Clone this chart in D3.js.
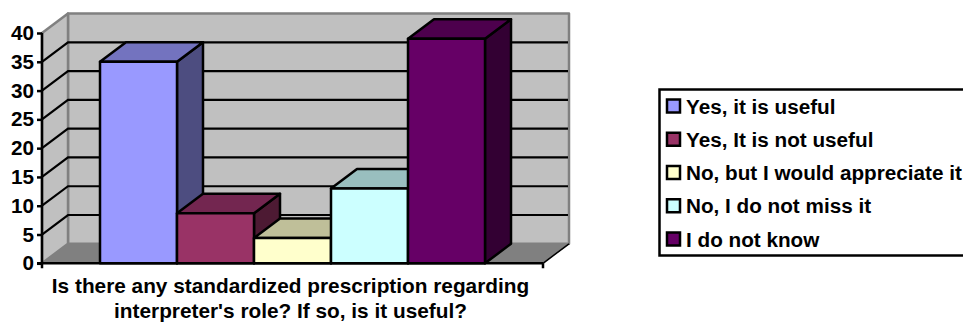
<!DOCTYPE html>
<html>
<head>
<meta charset="utf-8">
<script src="https://cdn.jsdelivr.net/npm/d3@7/dist/d3.min.js"></script>
<style>
html,body{margin:0;padding:0;background:#fff;overflow:hidden}
svg{display:block}
text{font-family:"Liberation Sans",Arial,sans-serif;font-weight:bold;fill:#000}
</style>
</head>
<body>
<script>
// Survey answers, one bar per answer
const answers = ["Yes, it is useful","Yes, It is not useful","No, but I would appreciate it","No, I do not miss it","I do not know"];
const counts = [35, 8.7, 4.4, 13, 39];
const frontColors = ["#9999ff","#993366","#ffffcc","#ccffff","#660066"];
const topColors = ["#7373bf","#732650","#bfbf99","#99bfbf","#4d004d"];
const sideColors = ["#4d4d80","#4d1a33","#808066","#668080","#330033"];
const yTicks = [0,5,10,15,20,25,30,35,40];
const titleLines = ["Is there any standardized prescription regarding","interpreter's role? If so, is it useful?"];

const W = 963, H = 322;
const depthX = 26, depthY = -19.5;
const svg = d3.select("body").append("svg").attr("width",W).attr("height",H);

const x = d3.scaleBand().domain(answers).range([100,485]).padding(0);
const y = d3.scaleLinear().domain([0,40]).range([263.3,33]);
const left = 42, right = 543;
const line = d3.line();
const poly = (pts,fill,stroke,sw) => svg.append("path")
  .attr("d",line(pts)+"Z").attr("fill",fill)
  .attr("stroke",stroke||"none").attr("stroke-width",sw||0).attr("stroke-linejoin","round");

// Walls and floor of the 3D box
poly([[left+depthX,y(40)+depthY],[right+depthX,y(40)+depthY],[right+depthX,y(0)+depthY],[left+depthX,y(0)+depthY]],"#c0c0c0","#808080",2.5);
poly([[left,y(40)],[left+depthX,y(40)+depthY],[left+depthX,y(0)+depthY],[left,y(0)]],"#c0c0c0","#808080",2.5);
poly([[left,y(0)],[left+depthX,y(0)+depthY],[right+depthX,y(0)+depthY],[right,y(0)]],"#808080","#808080",1);

// Gridlines run along the side wall and across the back wall
yTicks.filter(d=>d>0 && d<40).forEach(d=>{
  svg.append("path").attr("fill","none").attr("stroke","#000").attr("stroke-width",2.2)
    .attr("d",line([[left,y(d)],[left+depthX,y(d)+depthY],[right+depthX-1,y(d)+depthY]]));
});

// Bars, each with a top and a right side face
answers.forEach((a,i)=>{
  const x0 = x(a), x1 = x0+x.bandwidth(), yt = y(counts[i]), yb = y(0);
  poly([[x1,yt],[x1+depthX,yt+depthY],[x1+depthX,yb+depthY],[x1,yb]],sideColors[i],"#000",2.5);
  poly([[x0,yt],[x0+depthX,yt+depthY],[x1+depthX,yt+depthY],[x1,yt]],topColors[i],"#000",2.5);
  poly([[x0,yt],[x1,yt],[x1,yb],[x0,yb]],frontColors[i],"#000",2.5);
});

// Value axis with its outward ticks
const yAxis = d3.axisLeft(y).tickValues(yTicks).tickSize(5).tickPadding(3);
const gy = svg.append("g").attr("transform",`translate(${left},0)`).call(yAxis);
gy.select(".domain").attr("stroke","#000").attr("stroke-width",2.5).attr("d",`M0,${y(40)}V${y(0)}`);
gy.selectAll("line").attr("stroke","#000").attr("stroke-width",2.5);
gy.selectAll("text").style("font-size","20.7px").style("font-family",'"Liberation Sans",Arial,sans-serif').style("font-weight","bold").attr("fill","#000");

// Category axis baseline and end ticks
svg.append("path").attr("fill","none").attr("stroke","#000").attr("stroke-width",2.5)
  .attr("d",`M${left-5},${y(0)}H${right}M${left},${y(0)}v5M${right},${y(0)}v5`);
svg.append("path").attr("fill","none").attr("stroke","#000").attr("stroke-width",1.5)
  .attr("d",line([[right,y(0)],[right+depthX,y(0)+depthY]]));

// Category title
svg.selectAll("text.title").data(titleLines).join("text").attr("class","title")
  .attr("x",290.5).attr("y",(d,i)=>293+i*25).attr("text-anchor","middle")
  .style("font-size","20.8px").text(d=>d);

// Legend panel runs off the right edge of the page
svg.append("rect").attr("x",659.5).attr("y",89.5).attr("width",320).attr("height",166)
  .attr("fill","#fff").attr("stroke","#000").attr("stroke-width",2.5);
const rowY = d3.scalePoint().domain(answers).range([106,239]);
answers.forEach((a,i)=>{
  svg.append("rect").attr("x",667).attr("y",rowY(a)-6.5).attr("width",13).attr("height",13)
    .attr("fill",frontColors[i]).attr("stroke","#000").attr("stroke-width",2.5);
  svg.append("text").attr("x",686).attr("y",rowY(a)+7.5).style("font-size","20.7px").text(a);
});
</script>
</body>
</html>
